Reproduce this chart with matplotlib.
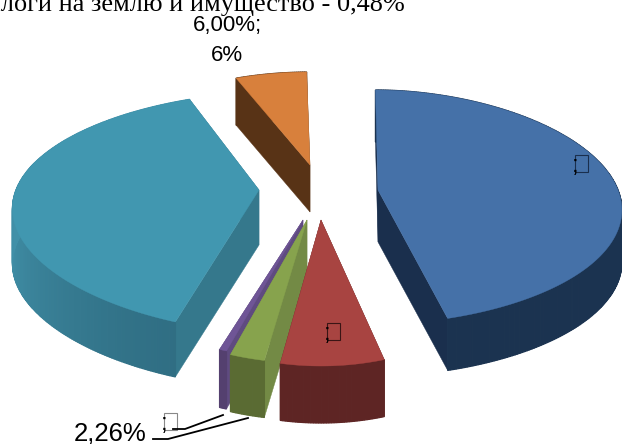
import numpy as np
import matplotlib
matplotlib.use('Agg')
import matplotlib.pyplot as plt
from matplotlib.patches import Polygon, Rectangle
from matplotlib.colors import to_rgb

# -------------------------- data --------------------------
categories = ['blue', 'red', 'green', 'purple', 'teal', 'orange']
shares = [46.0, 7.0, 2.26, 0.48, 38.26, 6.0]

# -------------------------- look of each slice --------------------------
top_colors = ['#4571a8', '#a84441', '#87a34d', '#6f5596', '#4197b0', '#d8803c']
rim_colors = ['#1b3350', '#5e2524', '#5a6b33', '#54406f', '#2e6b80', '#583316']
rim_colors_light = ['#1b3350', '#5e2524', '#5a6b33', '#54406f', '#4190a8', '#583316']
side_colors = ['#1a2f4d', '#5e2524', '#738a45', '#5f4b80', '#35788c', '#583316']

# where each exploded slice has its point, in pixels, and how it is projected
apex_x = [378, 321, 307, 303, 259, 310]
apex_y = [190, 220, 220, 220, 190, 165]
radius_x = [240, 196, 205, 205, 243, 225]
radius_back = [100, 100, 100, 100, 97, 93]
radius_front = [134, 146, 143, 139, 142, 130]
persp_x = [0.184, 0.184, 0.184, 0.184, 0.18, 0.184]
warp_x = [1.08, 1, 1, 1, 1.15, 1]
depth = [52, 57, 57, 58, 55, 47]
draw_order = [5, 0, 4, 3, 2, 1]
start_angle = -1.0


def project(i, ang_deg):
    # angle runs clockwise from the top of the pie
    a = np.radians(ang_deg)
    x, y = np.sin(a), np.cos(a)
    x = np.sign(x) * np.abs(x) ** warp_x[i]
    back, front = radius_back[i], radius_front[i]
    p = (front - back) / (front + back)
    ry = 2 * back * front / (front + back)
    sx = apex_x[i] + radius_x[i] * x / (1 + persp_x[i] * y)
    sy = apex_y[i] - ry * y / (1 + p * y)
    return sx, sy


fig = plt.figure(figsize=(6.22, 4.44), dpi=100)
ax = fig.add_axes([0, 0, 1, 1])
ax.set_xlim(0, 622)
ax.set_ylim(444, 0)
ax.axis('off')

edges = start_angle + np.concatenate([[0], np.cumsum(shares)]) * 3.6

for i in draw_order:
    cx, cy = apex_x[i], apex_y[i]
    d = depth[i]
    angs = np.linspace(edges[i], edges[i + 1], max(int(shares[i] * 6), 8))
    xs, ys = project(i, angs)

    # side walls along the two straight edges
    for k in (0, -1):
        ax.add_patch(Polygon([(cx, cy), (xs[k], ys[k]), (xs[k], ys[k] + d), (cx, cy + d)],
                             closed=True, fc=side_colors[i], ec=side_colors[i], lw=0.3))

    # outer wall, a bit darker toward the front
    c0 = np.array(to_rgb(rim_colors_light[i]))
    c1 = np.array(to_rgb(rim_colors[i]))
    for j in range(len(angs) - 1):
        t = np.clip(-np.cos(np.radians(angs[j])), 0, 1) ** 1.5
        col = c0 * (1 - t) + c1 * t
        ax.add_patch(Polygon([(xs[j], ys[j]), (xs[j + 1], ys[j + 1]),
                              (xs[j + 1], ys[j + 1] + d), (xs[j], ys[j] + d)],
                             closed=True, fc=col, ec=col, lw=0.9))

    # top face
    ax.add_patch(Polygon(np.column_stack([np.r_[cx, xs], np.r_[cy, ys]]),
                         closed=True, fc=top_colors[i], ec=top_colors[i], lw=0.3))

# -------------------------- text --------------------------
ax.text(405, 11, 'Налоги на землю и имущество - 0,48%', family='Liberation Serif',
        fontsize=18.9, ha='right', va='baseline', color='black')
ax.text(227, 31, '6,00%;', family='Liberation Sans', fontsize=16, ha='center', va='baseline', color='black')
ax.text(227, 61, '6%', family='Liberation Sans', fontsize=16, ha='center', va='baseline', color='black')
ax.text(110, 440, '2,26%', family='Liberation Sans', fontsize=18.5, ha='center', va='baseline', color='black')

# boxes the original shows for labels its font could not draw
box_spots = [(575, 155, '#1a2f4d'), (327, 323, '#3a1515'), (164, 413, '#888888')]
for bx, by, bc in box_spots:
    ax.add_patch(Rectangle((bx, by), 13, 17, fill=False, ec=bc, lw=0.8))
    ax.text(bx + 0.5, by + 17, ';', family='Liberation Sans', fontsize=17.5, ha='center', va='baseline', color='black')

# leader lines for the two thin slices
ax.plot([173, 185, 223], [429, 429, 415], color='black', lw=1.3)
ax.plot([153, 168, 248], [439, 439, 418], color='black', lw=1.3)

fig.savefig('out.png', dpi=100)
